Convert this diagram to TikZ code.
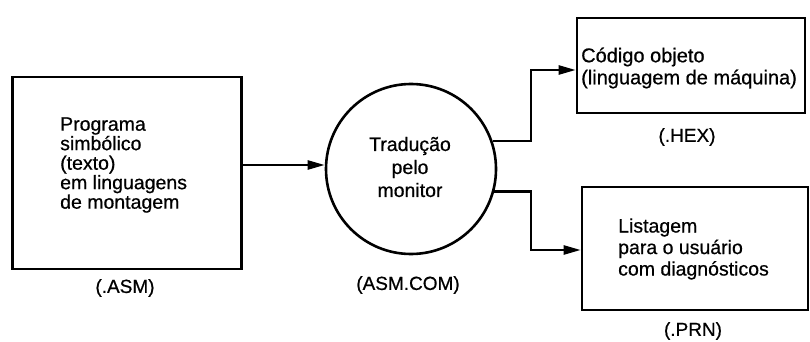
\documentclass[tikz,border=0pt]{standalone}
\usepackage{fontspec}
\setmainfont{Liberation Sans}[FakeBold=0.6]
\usetikzlibrary{arrows.meta}
\begin{document}
\begin{tikzpicture}[x=1pt,y=-1pt,
  box/.style={draw=black,line width=2.6pt,inner sep=0pt},
  conn/.style={draw=black,line width=2.4pt,-{Triangle[length=17pt,width=9pt]}},
  txt/.style={font=\fontsize{19.5}{19.5}\selectfont,align=left,inner sep=0pt},
  lbl/.style={font=\fontsize{19}{20}\selectfont,inner sep=0pt}]
\useasboundingbox (0,0) rectangle (810,342);
% boxes
\node[box,minimum width=229pt,minimum height=192pt] (asm) at (127,173) {};
\node[box,circle,minimum size=170pt] (circ) at (411,169) {};
\node[box,minimum width=228pt,minimum height=95pt] (hex) at (691,65.5) {};
\node[box,minimum width=226pt,minimum height=123pt] (prn) at (695,248.5) {};
% texts
\node[txt,anchor=west] (asmtxt) at (60,165) {Programa\\simbólico\\(texto)\\em linguagens\\de montagem};
\node[txt,align=center,font=\fontsize{19.5}{23}\selectfont] (circtxt) at (410,167) {Tradução\\pelo\\monitor};
\node[txt,anchor=west,font=\fontsize{20}{22}\selectfont] (hextxt) at (581,68) {Código objeto\\(linguagem de máquina)};
\node[txt,anchor=west,font=\fontsize{19.5}{21.5}\selectfont] (prntxt) at (618,249) {Listagem\\para o usuário\\com diagnósticos};
% labels
\node[lbl] (asml) at (125,288) {(.ASM)};
\node[lbl] (circl) at (408,285) {(ASM.COM)};
\node[lbl] (hexl) at (687,137) {(.HEX)};
\node[lbl] (prnl) at (693,331) {(.PRN)};
% connectors
\draw[conn] ([yshift=8pt]asm.east) -- ([yshift=8pt]asm.east -| circ.west);
\draw[conn] (circ.19) -| ([xshift=-45pt,yshift=-4.5pt]hex.west) -- ([yshift=-4.5pt]hex.west);
\draw[conn] (circ.-15) -| ([xshift=-50pt,yshift=-1.5pt]prn.west) -- ([yshift=-1.5pt]prn.west);
\end{tikzpicture}
\end{document}
